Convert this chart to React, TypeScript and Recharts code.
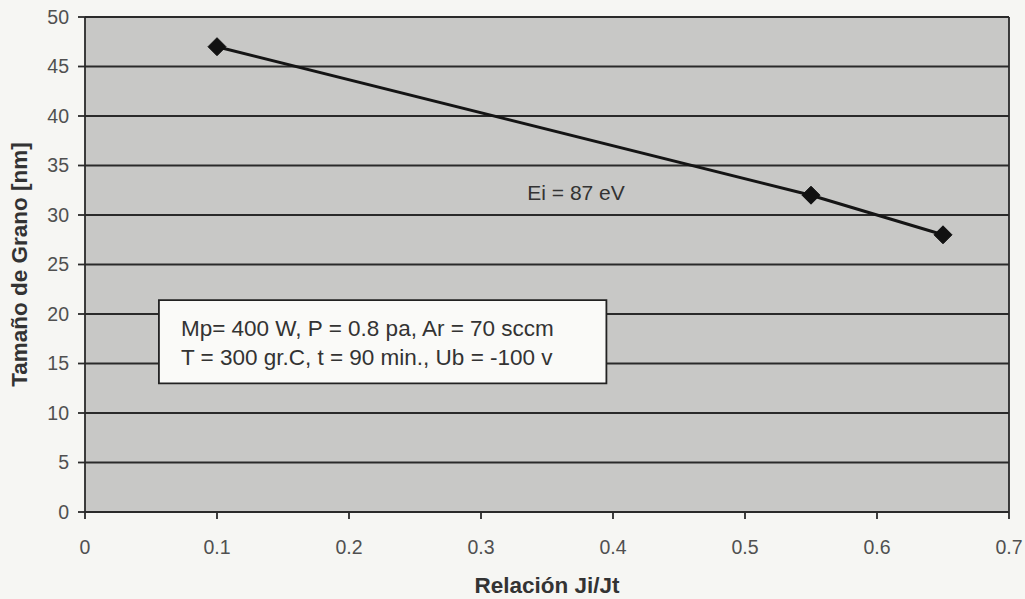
import React from "react";
import {
  ComposedChart,
  Line,
  XAxis,
  YAxis,
  CartesianGrid,
  ReferenceArea,
  ReferenceLine,
  ReferenceDot,
  Label,
} from "recharts";

const ratios = [0.1, 0.55, 0.65];
const grainSizes = [47, 32, 28];
const xTicks = [0, 0.1, 0.2, 0.3, 0.4, 0.5, 0.6, 0.7];
const yTicks = [0, 5, 10, 15, 20, 25, 30, 35, 40, 45, 50];
const seriesLabel = "Ei = 87 eV";
const boxLines = [
  "Mp= 400 W, P = 0.8 pa, Ar = 70 sccm",
  "T = 300 gr.C, t = 90 min., Ub = -100 v",
];
const xTitle = "Relación Ji/Jt";
const yTitle = "Tamaño de Grano [nm]";

const data = ratios.map((r, i) => ({ x: r, y: grainSizes[i] }));

const FONT = "'Liberation Sans', Arial, sans-serif";
const TICK_COLOR = "#505050";
const LINE_COLOR = "#2a2a2a";

const Diamond = (props: any) => {
  const { cx, cy } = props;
  if (cx == null || cy == null) return null;
  const s = 9;
  return (
    <polygon
      points={`${cx},${cy - s} ${cx + s},${cy} ${cx},${cy + s} ${cx - s},${cy}`}
      fill="#111"
      stroke="#111"
    />
  );
};

export default function App() {
  return (
    <div
      style={{
        position: "absolute",
        left: 0,
        top: 0,
        width: 1025,
        height: 599,
        background: "#f6f6f3",
        fontFamily: FONT,
      }}
    >
      <ComposedChart
        width={1025}
        height={599}
        data={data}
        margin={{ top: 17, right: 16, bottom: 5, left: 0 }}
      >
        <CartesianGrid
          horizontal={true}
          vertical={false}
          fill="#c8c8c6"
          stroke={LINE_COLOR}
          strokeWidth={1.8}
          strokeOpacity={1}
        />
        <XAxis
          type="number"
          dataKey="x"
          domain={[0, 0.7]}
          ticks={xTicks}
          height={82}
          tickSize={7}
          tickMargin={21}
          stroke={LINE_COLOR}
          strokeWidth={1.8}
          tick={{ fill: TICK_COLOR, fontSize: 19.5, fontFamily: FONT }}
          tickFormatter={(v: number) => String(v)}
        >
          <Label
            value={xTitle}
            position="insideBottom"
            offset={1}
            style={{ fontWeight: "bold", fontSize: 22.5, fill: "#333", fontFamily: FONT }}
          />
        </XAxis>
        <YAxis
          type="number"
          dataKey="y"
          domain={[0, 50]}
          ticks={yTicks}
          width={85}
          tickSize={7}
          tickMargin={9}
          stroke={LINE_COLOR}
          strokeWidth={1.8}
          tick={{ fill: TICK_COLOR, fontSize: 19.5, fontFamily: FONT }}
        >
          <Label
            content={(props: any) => {
              const vb = props.viewBox || {};
              const cx = 19;
              const cy = (vb.y ?? 17) + (vb.height ?? 495) / 2;
              return (
                <text
                  x={cx}
                  y={cy}
                  transform={`rotate(-90 ${cx} ${cy})`}
                  textAnchor="middle"
                  dominantBaseline="central"
                  style={{ fontWeight: "bold", fontSize: 22.5, fill: "#333", fontFamily: FONT }}
                >
                  {yTitle}
                </text>
              );
            }}
          />
        </YAxis>
        <ReferenceLine x={0.7} stroke={LINE_COLOR} strokeWidth={1.8} ifOverflow="extendDomain" />
        <ReferenceArea
          x1={0.056}
          x2={0.395}
          y1={13.0}
          y2={21.4}
          fill="#fafaf8"
          fillOpacity={1}
          stroke="#222"
          strokeWidth={1.8}
          strokeOpacity={1}
          label={(props: any) => {
            const vb = props.viewBox || {};
            const x = (vb.x ?? 0) + 22;
            const y = vb.y ?? 0;
            return (
              <g>
                {boxLines.map((t, i) => (
                  <text
                    key={i}
                    x={x}
                    y={y + 36 + i * 29}
                    style={{ fontSize: 22.5, fill: "#333", fontFamily: FONT }}
                  >
                    {t}
                  </text>
                ))}
              </g>
            );
          }}
        />
        <ReferenceDot
          x={0.372}
          y={32.3}
          r={0}
          fill="none"
          stroke="none"
          label={{
            value: seriesLabel,
            position: "center",
            style: { fontSize: 21, fill: "#333", fontFamily: FONT },
          }}
        />
        <Line
          type="linear"
          dataKey="y"
          stroke="#151515"
          strokeWidth={3}
          dot={<Diamond />}
          activeDot={false}
          isAnimationActive={false}
        />
      </ComposedChart>
    </div>
  );
}
